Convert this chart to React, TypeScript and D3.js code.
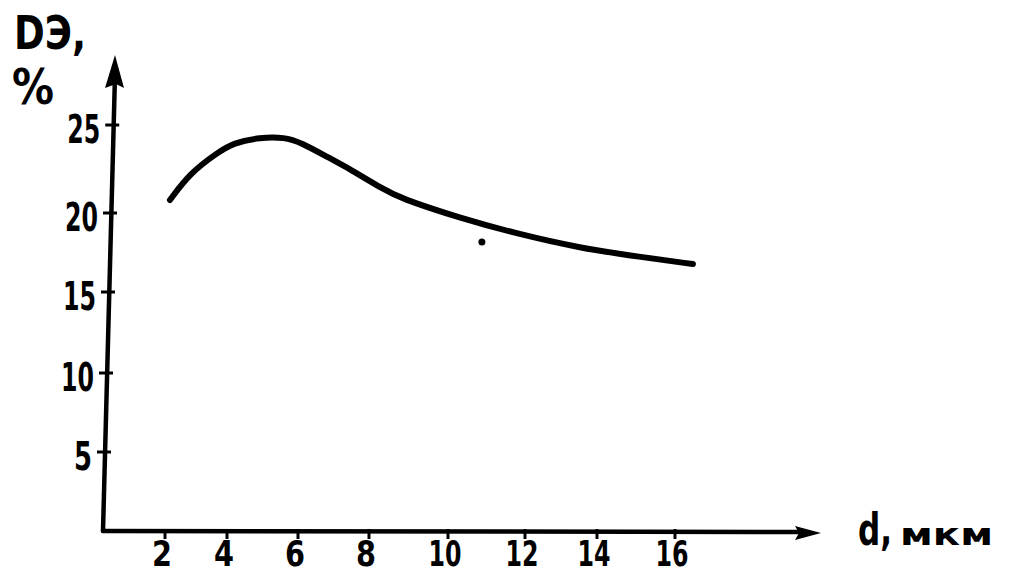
import React from "react";
import * as d3 from "d3";

// Hand-drawn axes: tick values and their (irregular) positions along the drawn axes
const xTickValues = [2, 4, 6, 8, 10, 12, 14, 16];
const xTickPixels = [165, 227, 298, 369, 448, 525, 597, 675];
const yTickValues = [0, 5, 10, 15, 20, 25];
const yTickPixels = [530, 452, 373, 292, 213, 125];
const yTickLabels = [5, 10, 15, 20, 25];

// Curve: d (мкм) vs DЭ (%)
const dValues = [2.16, 2.81, 3.68, 4.18, 4.93, 5.63, 6.06, 6.9, 7.46, 8.35, 8.78, 10.31, 11.82, 13.53, 15.1, 16.46];
const deValues = [20.74, 22.27, 23.41, 23.98, 24.3, 24.3, 24.03, 23.1, 22.5, 21.36, 20.85, 19.68, 18.67, 17.78, 17.22, 16.77];

// isolated point on the sheet
const strayD = [10.88];
const strayDE = [18.16];

export default function App() {
  const W = 1024, H = 576;
  const x = d3.scaleLinear().domain(xTickValues).range(xTickPixels);
  const y = d3.scaleLinear().domain(yTickValues).range(yTickPixels);

  // slightly tilted hand-drawn y axis
  const axBottom = { x: 103, y: 531 };
  const axTop = { x: 115, y: 55 };
  const axisXAt = (py: number) => axBottom.x + ((axBottom.y - py) * (axTop.x - axBottom.x)) / (axBottom.y - axTop.y);

  const pts: [number, number][] = dValues.map((d, i) => [x(d), y(deValues[i])]);
  const line = d3.line().curve(d3.curveBasis)(pts) || "";

  const font = "'DejaVu Sans Condensed', 'DejaVu Sans', sans-serif";

  return (
    <svg width={W} height={H} style={{ position: "absolute", left: 0, top: 0, background: "#fff" }}>
      <rect x={0} y={0} width={W} height={H} fill="#fff" />
      {/* y axis */}
      <line x1={axBottom.x} y1={axBottom.y} x2={axTop.x} y2={axTop.y + 20} stroke="#000" strokeWidth={4.5} strokeLinecap="round" />
      <path d={`M${axTop.x},${axTop.y} L${axTop.x - 10},${axTop.y + 33} L${axTop.x + 1},${axTop.y + 29} L${axTop.x + 9},${axTop.y + 33} Z`} fill="#000" />
      {/* x axis */}
      <line x1={axBottom.x} y1={axBottom.y} x2={800} y2={532} stroke="#000" strokeWidth={4.5} strokeLinecap="round" />
      <path d="M821,533 L795,526 L799,533 L795,540 Z" fill="#000" />

      {/* y ticks */}
      {yTickLabels.map((v) => {
        const py = y(v);
        const ax = axisXAt(py);
        return (
          <g key={"yt" + v}>
            <line x1={ax - 8} y1={py} x2={ax + 6} y2={py} stroke="#000" strokeWidth={3} />
            <text
              x={ax - 13}
              y={py + 18}
              textAnchor="end"
              fontFamily={font}
              fontWeight="bold"
              fontSize={39}
              textLength={String(v).length === 1 ? 18 : 33}
              lengthAdjust="spacingAndGlyphs"
            >
              {v}
            </text>
          </g>
        );
      })}

      {/* x ticks */}
      {xTickValues.map((v) => {
        const px = x(v);
        const len = String(v).length === 1 ? 20 : 33;
        return (
          <g key={"xt" + v}>
            <line x1={px} y1={529} x2={px} y2={539} stroke="#000" strokeWidth={3} />
            <text
              x={px - 3 - len / 2}
              y={566}
              fontFamily={font}
              fontWeight="bold"
              fontSize={36}
              textLength={len}
              lengthAdjust="spacingAndGlyphs"
            >
              {v}
            </text>
          </g>
        );
      })}

      {/* curve */}
      <path d={line} fill="none" stroke="#000" strokeWidth={6} strokeLinecap="round" strokeLinejoin="round" />
      {strayD.map((d, i) => (
        <circle key={"s" + i} cx={x(d)} cy={y(strayDE[i])} r={3.5} fill="#000" />
      ))}

      {/* y axis title */}
      <text x={14} y={49} fontFamily="'DejaVu Sans', sans-serif" fontWeight="bold" fontSize={46} textLength={72} lengthAdjust="spacingAndGlyphs">
        DЭ,
      </text>
      <text x={12} y={104} fontFamily="'DejaVu Sans', sans-serif" fontWeight="bold" fontSize={50} textLength={42} lengthAdjust="spacingAndGlyphs">
        %
      </text>

      {/* x axis title */}
      <text x={858} y={545} fontFamily="'DejaVu Sans', sans-serif" fontWeight="bold" fontSize={44} textLength={34} lengthAdjust="spacingAndGlyphs">
        d,
      </text>
      <text x={900} y={545} fontFamily="'DejaVu Sans', sans-serif" fontWeight="bold" fontSize={30} textLength={93} lengthAdjust="spacingAndGlyphs">
        мкм
      </text>
    </svg>
  );
}
